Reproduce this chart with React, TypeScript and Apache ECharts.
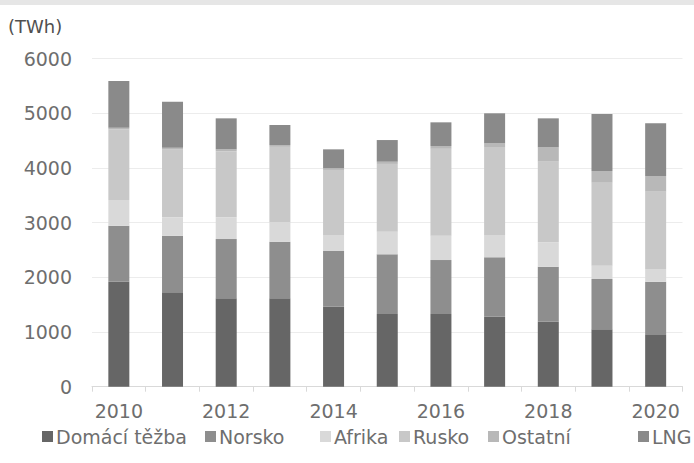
import React, { useEffect, useRef } from "react";
import * as echarts from "echarts";

const years = ["2010", "2011", "2012", "2013", "2014", "2015", "2016", "2017", "2018", "2019", "2020"];
const yTicks = [0, 1000, 2000, 3000, 4000, 5000, 6000];
const seriesNames = ["Domácí těžba", "Norsko", "Afrika", "Rusko", "Ostatní", "LNG"];
const domaci = [1920, 1726, 1617, 1617, 1463, 1330, 1330, 1280, 1189, 1050, 946];
const norsko = [1025, 1036, 1084, 1035, 1019, 1091, 987, 1087, 1006, 920, 975];
const afrika = [470, 336, 397, 355, 293, 414, 445, 408, 446, 243, 232];
const rusko = [1290, 1240, 1210, 1380, 1190, 1240, 1590, 1610, 1475, 1518, 1414];
const ostatni = [33, 34, 34, 34, 30, 41, 51, 67, 263, 215, 287];
const lng = [854, 841, 567, 366, 347, 396, 433, 549, 530, 1042, 964];

const seriesData = [domaci, norsko, afrika, rusko, ostatni, lng];
const colors = ["#666666", "#8e8e8e", "#d9d9d9", "#c8c8c8", "#b8b8b8", "#8a8a8a"];
const legendLeft = [42, 205, 320, 399, 488, 638];

const FONT = "DejaVu Sans";
const TEXT = "#6e6e6e";

export default function App() {
  const ref = useRef<HTMLDivElement>(null);
  useEffect(() => {
    document.body.style.margin = "0";
    const chart = echarts.init(ref.current!, undefined, { renderer: "svg" });
    chart.setOption({
      animation: false,
      backgroundColor: "#ffffff",
      graphic: [
        { type: "rect", shape: { x: 0, y: 0, width: 694, height: 5 }, style: { fill: "#e6e6e6" } },
        {
          type: "text",
          left: 8,
          top: 17,
          style: { text: "(TWh)", fill: "#505050", font: `18px "${FONT}"` },
        },
      ],
      legend: seriesNames.map((n, i) => ({
        data: [n],
        left: legendLeft[i],
        top: 427,
        itemWidth: 11,
        itemHeight: 11,
        itemGap: 0,
        padding: 0,
        icon: "rect",
        textStyle: { fontFamily: FONT, fontSize: 19, color: TEXT, padding: [0, 0, 0, -2] },
        selectedMode: false,
      })),
      grid: { left: 92, right: 11.5, top: 58.7, bottom: 76.3, containLabel: false },
      xAxis: {
        type: "category",
        data: years,
        axisLine: { lineStyle: { color: "#d9d9d9" } },
        axisTick: { show: true, interval: 0, length: 5, lineStyle: { color: "#d9d9d9" } },
        axisLabel: { interval: 1, margin: 15, fontFamily: FONT, fontSize: 19, color: TEXT },
      },
      yAxis: {
        type: "value",
        min: yTicks[0],
        max: yTicks[yTicks.length - 1],
        interval: 1000,
        axisLine: { show: false },
        axisTick: { show: false },
        splitLine: { lineStyle: { color: "#ececec" } },
        axisLabel: {
          margin: 20,
          fontFamily: FONT,
          fontSize: 19,
          color: TEXT,
          formatter: (v: number) => String(v),
        },
      },
      series: seriesNames.map((n, i) => ({
        name: n,
        type: "bar",
        stack: "total",
        barWidth: 21,
        data: seriesData[i],
        itemStyle: { color: colors[i] },
      })),
    });
    return () => chart.dispose();
  }, []);
  return <div ref={ref} style={{ width: 694, height: 463, position: "absolute", left: 0, top: 0 }} />;
}
